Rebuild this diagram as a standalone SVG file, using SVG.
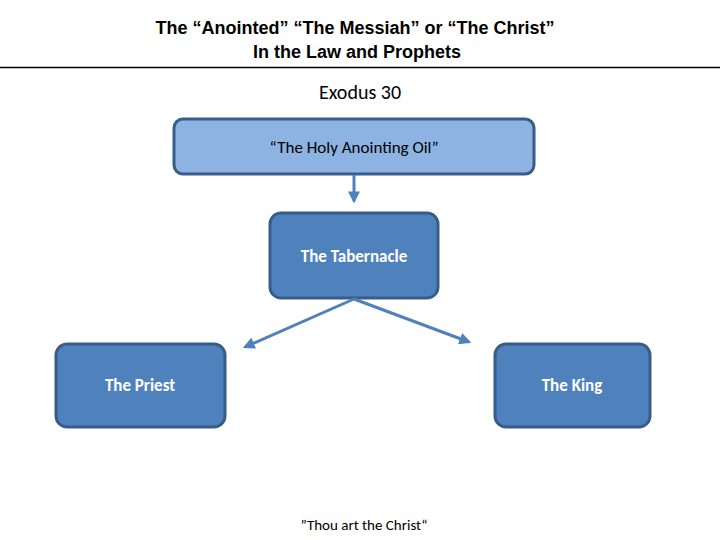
<svg xmlns="http://www.w3.org/2000/svg" width="720" height="540" viewBox="0 0 720 540">
<style>
.t{font-family:"Liberation Sans",Arial,sans-serif;font-weight:bold;font-size:18px;fill:#000;text-anchor:middle}
.c{font-family:Carlito,"Open Sans","Liberation Sans",sans-serif;text-anchor:middle}
.n{fill:#4f81bd;stroke:#385d8a;stroke-width:3}
.w{fill:#fff;font-size:17px;font-weight:bold}
.cn{stroke:#4f81bd;stroke-width:3;fill:none;marker-end:url(#a)}
</style>
<defs><marker id="a" viewBox="0 0 10 10" refX="8" refY="5" markerWidth="4" markerHeight="4" orient="auto"><path d="M0,0L10,5L0,10z" fill="#4f81bd"/></marker></defs>
<rect width="720" height="540" fill="#fff"/>
<text class="t" x="355" y="34">The “Anointed” “The Messiah” or “The Christ”</text>
<text class="t" x="357" y="58">In the Law and Prophets</text>
<line x1="0" y1="67.5" x2="720" y2="67.5" stroke="#000" stroke-width="1.5"/>
<text class="c" x="360" y="99" font-size="20">Exodus 30</text>
<g id="oil"><rect x="174" y="119" width="360" height="55" rx="9" fill="#8db3e2" stroke="#385d8a" stroke-width="3"/><text class="c" x="354" y="153" font-size="17">“The Holy Anointing Oil”</text></g>
<g id="tab"><rect class="n" x="270" y="213" width="168" height="85" rx="11"/><text class="c w" x="354" y="262">The Tabernacle</text></g>
<g id="priest"><rect class="n" x="56" y="344" width="169" height="83" rx="11"/><text class="c w" x="140" y="391">The Priest</text></g>
<g id="king"><rect class="n" x="495" y="344" width="155" height="83" rx="11"/><text class="c w" x="572" y="391">The King</text></g>
<g id="connectors">
<line class="cn" x1="354" y1="175" x2="354" y2="201"/>
<line class="cn" x1="354" y1="299" x2="245" y2="347"/>
<line class="cn" x1="354" y1="299" x2="469" y2="342"/>
</g>
<text class="c" x="364" y="530" font-size="15">”Thou art the Christ“</text>
</svg>
